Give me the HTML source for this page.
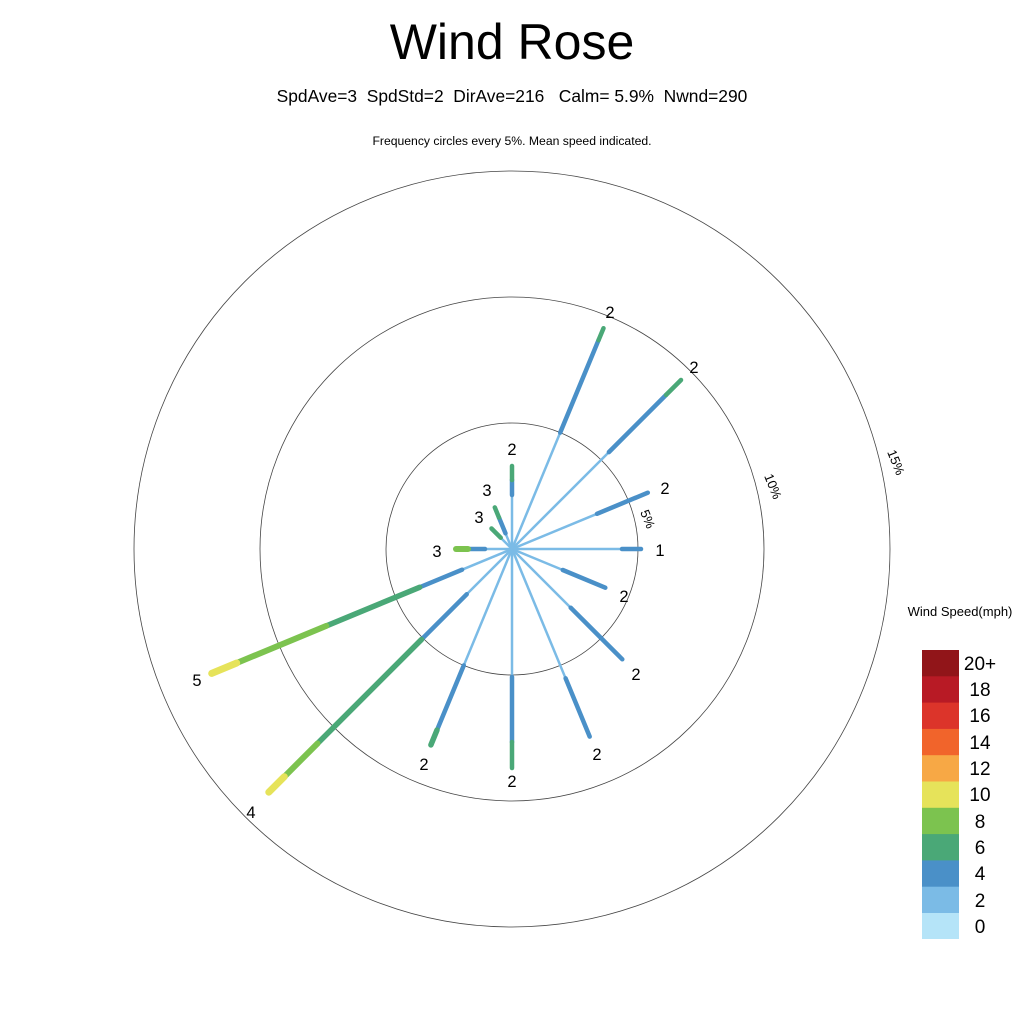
<!DOCTYPE html>
<html><head><meta charset="utf-8"><style>
html,body{margin:0;padding:0;background:#fff;}
svg{display:block;font-family:"Liberation Sans",sans-serif;}
</style></head><body>
<svg width="1024" height="1024" viewBox="0 0 1024 1024" xmlns="http://www.w3.org/2000/svg">
<rect width="1024" height="1024" fill="#fff"/>
<text x="512" y="59" font-size="50" text-anchor="middle">Wind Rose</text>
<text x="512" y="102" font-size="17.4" text-anchor="middle" style="white-space:pre" xml:space="preserve">SpdAve=3  SpdStd=2  DirAve=216   Calm= 5.9%  Nwnd=290</text>
<text x="512" y="145" font-size="12.2" text-anchor="middle">Frequency circles every 5%. Mean speed indicated.</text>
<g fill="none" stroke="#444" stroke-width="0.8">
<circle cx="512" cy="549" r="126"/><circle cx="512" cy="549" r="252"/><circle cx="512" cy="549" r="378"/>
</g>
<g font-size="13">
<text transform="translate(640,512) rotate(68)">5%</text>
<text transform="translate(764,476) rotate(68)">10%</text>
<text transform="translate(887,452) rotate(68)">15%</text>
</g>
<g stroke="#7bbbe6" stroke-width="2.5">
<line x1="512" y1="549" x2="512" y2="495"/>
<line x1="512" y1="549" x2="560.2" y2="432.6"/>
<line x1="512" y1="549" x2="608.9" y2="452.1"/>
<line x1="512" y1="549" x2="597" y2="513.8"/>
<line x1="512" y1="549" x2="622" y2="549"/>
<line x1="512" y1="549" x2="562.8" y2="570"/>
<line x1="512" y1="549" x2="570.7" y2="607.7"/>
<line x1="512" y1="549" x2="565.6" y2="678.3"/>
<line x1="512" y1="549" x2="512" y2="677"/>
<line x1="512" y1="549" x2="463.8" y2="665.4"/>
<line x1="512" y1="549" x2="466.7" y2="594.3"/>
<line x1="512" y1="549" x2="462.1" y2="569.7"/>
<line x1="512" y1="549" x2="485" y2="549"/>
<line x1="512" y1="549" x2="500.7" y2="537.7"/>
<line x1="512" y1="549" x2="505.5" y2="533.3"/>
</g>
<g stroke="#4a90c8" stroke-width="4.5" stroke-linecap="round">
<line x1="512" y1="495" x2="512" y2="480"/>
<line x1="560.2" y1="432.6" x2="598.5" y2="340.2"/>
<line x1="608.9" y1="452.1" x2="666.1" y2="394.9"/>
<line x1="597" y1="513.8" x2="647.8" y2="492.7"/>
<line x1="622" y1="549" x2="641" y2="549"/>
<line x1="562.8" y1="570" x2="605.3" y2="587.7"/>
<line x1="570.7" y1="607.7" x2="622.3" y2="659.3"/>
<line x1="565.6" y1="678.3" x2="589.7" y2="736.6"/>
<line x1="512" y1="677" x2="512" y2="742"/>
<line x1="463.8" y1="665.4" x2="437" y2="730.1"/>
<line x1="466.7" y1="594.3" x2="421.5" y2="639.5"/>
<line x1="462.1" y1="569.7" x2="419.6" y2="587.3"/>
<line x1="485" y1="549" x2="468" y2="549"/>
<line x1="505.5" y1="533.3" x2="499" y2="517.6"/>
</g>
<g stroke="#4aa877" stroke-width="4.5" stroke-linecap="round">
<line x1="512" y1="480" x2="512" y2="466"/>
<line x1="598.5" y1="340.2" x2="603.5" y2="328.2"/>
<line x1="666.1" y1="394.9" x2="681" y2="380"/>
<line x1="512" y1="742" x2="512" y2="768"/>
<line x1="437" y1="730.1" x2="430.9" y2="744.9" stroke-width="5.5"/>
<line x1="421.5" y1="639.5" x2="317.5" y2="743.5" stroke-width="5.5"/>
<line x1="419.6" y1="587.3" x2="326.3" y2="625.9" stroke-width="5.5"/>
<line x1="500.7" y1="537.7" x2="491.5" y2="528.5"/>
<line x1="499" y1="517.6" x2="494.8" y2="507.4"/>
</g>
<g stroke="#7cc34f" stroke-width="6" stroke-linecap="round">
<line x1="317.5" y1="743.5" x2="284.3" y2="776.7"/>
<line x1="326.3" y1="625.9" x2="236.7" y2="663"/>
<line x1="468" y1="549" x2="456" y2="549"/>
</g>
<g stroke="#e6e35a" stroke-width="7" stroke-linecap="round">
<line x1="284.3" y1="776.7" x2="268.8" y2="792.2"/>
<line x1="236.7" y1="663" x2="211.7" y2="673.4"/>
</g>
<g font-size="16.5" text-anchor="middle">
<text x="512" y="455">2</text>
<text x="610" y="318">2</text>
<text x="694" y="373">2</text>
<text x="665" y="494">2</text>
<text x="660" y="556">1</text>
<text x="624" y="602">2</text>
<text x="636" y="680">2</text>
<text x="597" y="760">2</text>
<text x="512" y="787">2</text>
<text x="424" y="770">2</text>
<text x="251" y="818">4</text>
<text x="197" y="686">5</text>
<text x="437" y="557">3</text>
<text x="479" y="523">3</text>
<text x="487" y="496">3</text>
</g>
<text x="960" y="616" font-size="13" text-anchor="middle">Wind Speed(mph)</text>
<g>
<rect x="922" y="650" width="37" height="27" fill="#911519"/>
<rect x="922" y="676.3" width="37" height="27" fill="#b81a25"/>
<rect x="922" y="702.6" width="37" height="27" fill="#dc342a"/>
<rect x="922" y="728.9" width="37" height="27" fill="#f1642b"/>
<rect x="922" y="755.2" width="37" height="27" fill="#f7a845"/>
<rect x="922" y="781.5" width="37" height="27" fill="#e6e35a"/>
<rect x="922" y="807.8" width="37" height="27" fill="#7cc34f"/>
<rect x="922" y="834.1" width="37" height="27" fill="#4aa877"/>
<rect x="922" y="860.4" width="37" height="27" fill="#4a90c8"/>
<rect x="922" y="886.7" width="37" height="27" fill="#7bbbe6"/>
<rect x="922" y="913" width="37" height="26" fill="#b5e4f8"/>
</g>
<g font-size="19" text-anchor="middle">
<text x="980" y="670">20+</text>
<text x="980" y="696">18</text>
<text x="980" y="722">16</text>
<text x="980" y="749">14</text>
<text x="980" y="775">12</text>
<text x="980" y="801">10</text>
<text x="980" y="828">8</text>
<text x="980" y="854">6</text>
<text x="980" y="880">4</text>
<text x="980" y="907">2</text>
<text x="980" y="933">0</text>
</g>
</svg>
</body></html>
